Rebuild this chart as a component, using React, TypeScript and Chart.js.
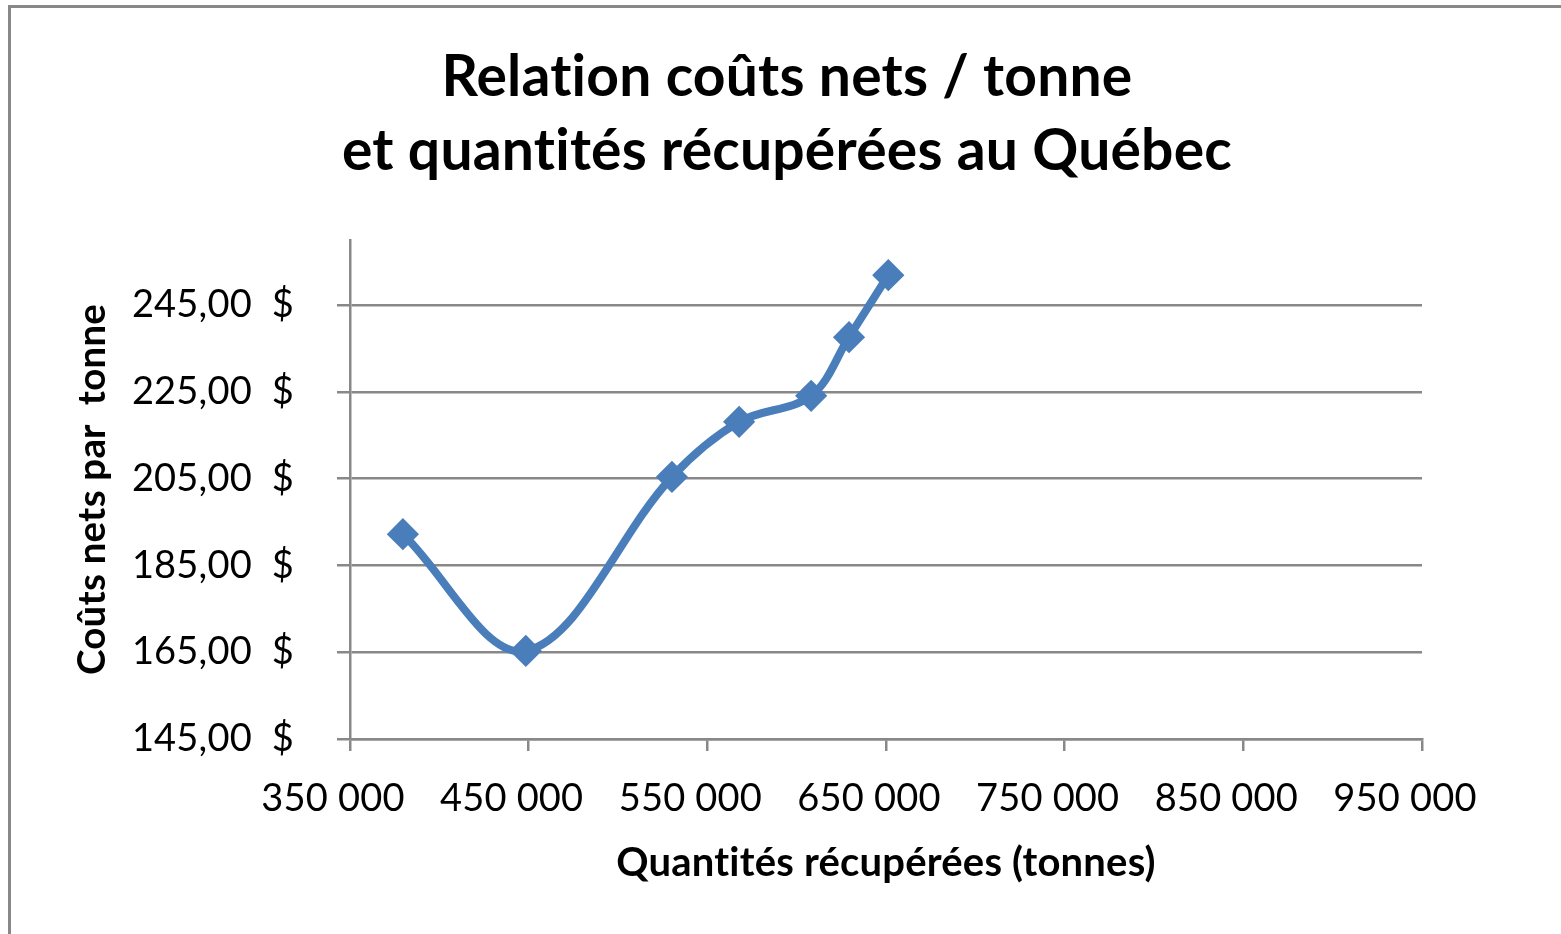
import React, { useEffect, useRef } from "react";
import { Chart, registerables } from "chart.js";

Chart.register(...registerables);

const TITLE_LINES = ["Relation coûts nets / tonne", "et quantités récupérées au Québec"];
const X_TITLE = "Quantités récupérées (tonnes)";
const Y_TITLE = "Coûts nets par  tonne";

const QUANTITIES = [379600, 448400, 530200, 567800, 608100, 629300, 651300];
const COSTS = [192.2, 165.3, 205.4, 218.1, 224.1, 237.6, 251.9];

const X_TICKS = [350000, 450000, 550000, 650000, 750000, 850000, 950000];
const Y_TICKS = [145, 165, 185, 205, 225, 245];
const X_MIN = 350000;
const X_MAX = 950000;
const Y_MIN = 145;
const Y_MAX = 260;

const GRID = "#888888";
const BLUE = "#4a7ebb";
const FONT = "Lato";

function fmtQty(v: number): string {
  const s = Math.round(v).toString();
  return s.replace(/\B(?=(\d{3})+(?!\d))/g, " ");
}
function fmtCost(v: number): string {
  return v.toFixed(2).replace(".", ",") + "\u00a0\u00a0$";
}

const noLigatures = {
  id: "noLigatures",
  beforeDraw(chart: any) {
    try {
      chart.ctx.letterSpacing = "0.2px";
    } catch (e) {}
  },
};

export default function App() {
  const ref = useRef<HTMLCanvasElement | null>(null);

  useEffect(() => {
    if (!ref.current) return;
    const points = QUANTITIES.map((q, i) => ({ x: q, y: COSTS[i] }));
    const chart = new Chart(ref.current, {
      type: "scatter",
      data: {
        datasets: [
          {
            data: points,
            showLine: true,
            borderColor: BLUE,
            backgroundColor: BLUE,
            borderWidth: 8,
            tension: 0.35,
            pointStyle: "rectRot",
            pointRadius: 14,
            pointBorderWidth: 3,
            pointBackgroundColor: BLUE,
            pointBorderColor: BLUE,
            clip: false as any,
          },
        ],
      },
      plugins: [noLigatures],
      options: {
        responsive: false,
        animation: false,
        layout: { padding: { left: 13, right: 0, top: 0, bottom: 0 } },
        plugins: {
          legend: { display: false },
          tooltip: { enabled: false },
          title: {
            display: true,
            text: TITLE_LINES,
            color: "#000",
            font: { family: FONT, size: 57, weight: "bold", lineHeight: 74 / 57 },
            padding: { top: 41, bottom: 51 },
          },
        },
        scales: {
          x: {
            type: "linear",
            min: X_MIN,
            max: X_MAX,
            afterBuildTicks: (s: any) => {
              s.ticks = X_TICKS.map((value) => ({ value }));
            },
            afterFit: (s: any) => {
              s.height = 195;
            },
            grid: {
              drawOnChartArea: false,
              drawTicks: true,
              tickLength: 12,
              color: GRID,
              lineWidth: 2.5,
            },
            border: { display: true, color: GRID, width: 2.5 },
            ticks: {
              color: "#000",
              font: { family: FONT, size: 38 },
              padding: 25,
              labelOffset: -17,
              maxRotation: 0,
              autoSkip: false,
              callback: (v: any) => fmtQty(Number(v)),
            },
            title: {
              display: true,
              text: X_TITLE,
              color: "#000",
              font: { family: FONT, size: 40, weight: "bold" },
              padding: { top: 0, bottom: 47 },
            },
          },
          y: {
            type: "linear",
            position: "left",
            min: Y_MIN,
            max: Y_MAX,
            afterBuildTicks: (s: any) => {
              s.ticks = Y_TICKS.map((value) => ({ value }));
            },
            afterFit: (s: any) => {
              s.width = 337;
            },
            grid: {
              drawOnChartArea: true,
              drawTicks: true,
              tickLength: 13,
              color: GRID,
              lineWidth: 2.5,
            },
            border: { display: true, color: GRID, width: 2.5 },
            ticks: {
              color: "#000",
              font: { family: FONT, size: 38 },
              padding: 43,
              autoSkip: false,
              callback: (v: any) => fmtCost(Number(v)),
            },
            title: {
              display: true,
              text: Y_TITLE,
              color: "#000",
              font: { family: FONT, size: 38.5, weight: "bold" },
              padding: { top: 56, bottom: 0 },
            },
          },
          yRight: {
            type: "linear",
            position: "right",
            display: true,
            afterFit: (s: any) => {
              s.width = 139;
            },
            grid: { display: false, drawTicks: false },
            border: { display: false },
            ticks: { display: false },
            title: { display: false },
          },
        },
      },
    } as any);
    return () => chart.destroy();
  }, []);

  return (
    <div
      style={{
        position: "fixed",
        left: 0,
        top: 0,
        width: 1561,
        height: 934,
        overflow: "hidden",
        background: "#fff",
      }}
    >
      <div
        style={{
          position: "absolute",
          left: 8,
          top: 5,
          width: 1700,
          height: 1100,
          border: "3px solid #888888",
        }}
      />
      <canvas
        ref={ref}
        width={1561}
        height={934}
        style={{ position: "absolute", left: 0, top: 0 }}
      />
    </div>
  );
}
